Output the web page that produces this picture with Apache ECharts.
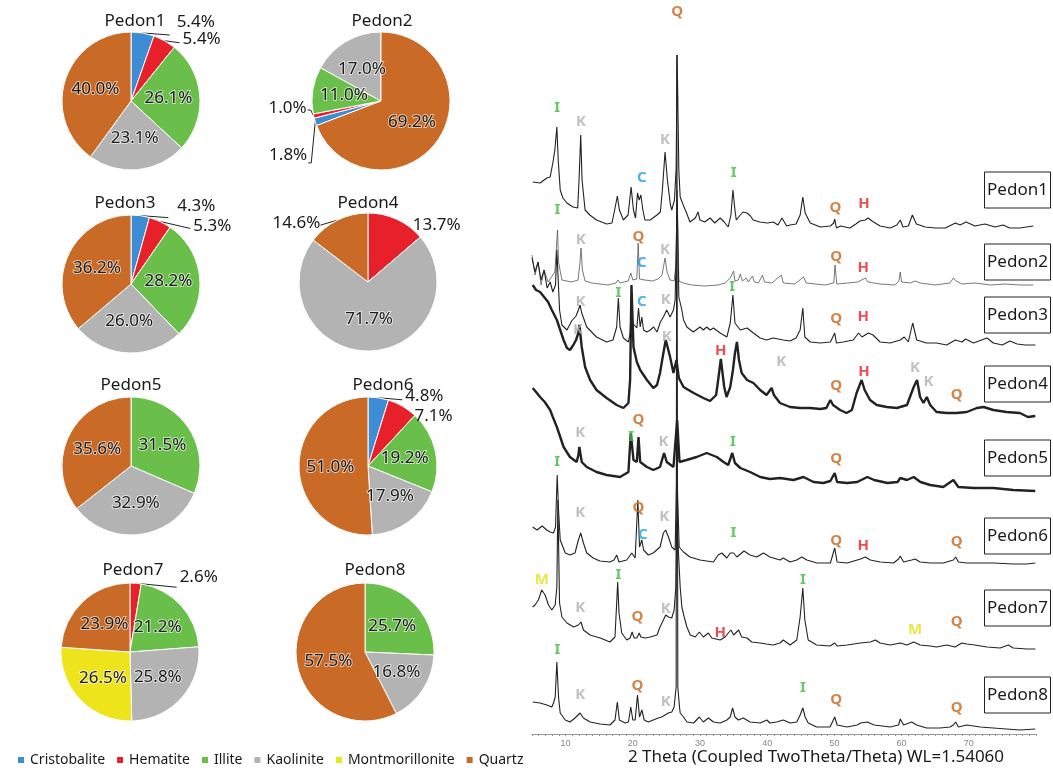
<!DOCTYPE html>
<html>
<head>
<meta charset="utf-8">
<script src="https://cdn.jsdelivr.net/npm/echarts@6/dist/echarts.min.js"></script>
<style>html,body{margin:0;padding:0;background:#fff;}#c{width:1053px;height:768px;}</style>
</head>
<body>
<div id="c"></div>
<script>
// ---------- pie data ----------
const minerals = ['Cristobalite','Hematite','Illite','Kaolinite','Montmorillonite','Quartz'];
const mineralColors = ['#3c8dd3','#e8202a','#6abf4b','#b3b3b3','#eee41c','#c96a27'];
const pedonNames = ['Pedon1','Pedon2','Pedon3','Pedon4','Pedon5','Pedon6','Pedon7','Pedon8'];
// percent per mineral in order of `minerals`
const pedon1Pct = [5.4, 5.4, 26.1, 23.1, 0, 40.0];
const pedon2Pct = [1.8, 1.0, 11.0, 17.0, 0, 69.2];
const pedon3Pct = [4.3, 5.3, 28.2, 26.0, 0, 36.2];
const pedon4Pct = [0, 13.7, 0, 71.7, 0, 14.6];
const pedon5Pct = [0, 0, 31.5, 32.9, 0, 35.6];
const pedon6Pct = [4.8, 7.1, 19.2, 17.9, 0, 51.0];
const pedon7Pct = [0, 2.6, 21.2, 25.8, 26.5, 23.9];
const pedon8Pct = [0, 0, 25.7, 16.8, 0, 57.5];

// ---------- XRD traces: [2theta, intensity above own baseline] ----------
const xrdPedon1 = [[5.1,46],[6.2,45],[7.2,50],[7.7,51],[8.1,65],[8.4,78],[8.7,101],[8.9,68],[9.2,38],[9.6,30],[10.2,25],[11.1,21],[11.8,20],[12.0,48],[12.25,93],[12.45,48],[12.9,18],[13.6,13],[14.6,8],[16.1,4],[16.9,5],[17.3,18],[17.7,32],[18.0,18],[18.6,8],[19.3,13],[19.75,41],[20.1,18],[20.4,10],[20.7,35],[20.95,28],[21.2,33],[21.5,18],[21.8,8],[22.6,8],[23.0,10],[23.6,13],[24.1,16],[24.4,38],[24.8,76],[25.15,48],[25.6,23],[25.8,18],[26.2,28],[26.45,60],[26.6,173],[26.85,58],[27.05,31],[27.5,23],[28.0,15],[28.5,6],[29.3,10],[29.7,16],[30.0,8],[30.7,6],[31.5,10],[32.2,5],[33.0,10],[33.6,6],[34.2,1],[34.6,13],[34.9,38],[35.2,18],[35.4,8],[36.0,13],[36.4,16],[37.0,15],[37.5,12],[37.9,8],[38.9,6],[40.0,5],[40.9,6],[41.6,3],[42.2,10],[42.9,2],[43.4,3],[44.3,4],[44.9,13],[45.3,31],[45.65,15],[46.4,5],[47.9,1],[49.4,2],[49.9,5],[50.05,9],[50.3,0],[50.9,2],[52.3,0],[53.2,4],[53.8,7],[54.6,8],[55.0,10],[55.6,7],[56.8,2],[58.3,0],[59.3,3],[59.8,8],[60.2,1],[61.0,2],[61.6,13],[62.2,4],[63.5,1],[65,0],[66.5,0],[68.0,5],[68.7,3],[69.6,6],[70.9,2],[72.4,4],[73.9,1],[75.1,3],[76.1,0],[77.6,0],[79.6,2]];
const xrdPedon2 = [[5.0,28],[5.45,8],[5.9,21],[6.35,-2],[6.8,13],[7.4,1],[8.0,7],[8.4,11],[8.65,38],[8.8,53],[8.95,21],[9.45,3],[10.9,1],[11.85,3],[12.15,21],[12.3,35],[12.5,13],[12.9,2],[13.9,0],[16.3,-2],[17.5,0],[17.8,3],[18.1,0],[19.3,2],[19.7,10],[20.0,3],[20.6,4],[20.8,40],[21.0,4],[21.8,3],[22.9,2],[23.75,4],[24.35,8],[24.8,25],[25.1,11],[25.55,3],[26.15,2],[26.45,20],[26.6,93],[26.85,2],[27.5,0],[28.8,-2],[30.75,-3],[32.7,-2],[33.75,0],[34.5,5],[35.0,12],[35.2,2],[35.7,3],[36.0,9],[36.3,2],[36.9,5],[37.2,1],[37.8,7],[38.1,1],[38.7,0],[39.3,8],[39.6,1],[40.7,0],[42.1,8],[42.4,0],[44.1,-1],[45.4,6],[45.8,0],[47.1,-1],[48.6,-2],[49.9,0],[50.1,18],[50.35,-1],[52.0,0],[53.5,1],[54.6,5],[55.0,1],[56.8,-1],[59.0,-2],[59.6,2],[59.8,11],[60.0,1],[61.3,0],[62.0,2],[62.8,0],[65.0,-2],[67.2,0],[67.7,5],[68.1,2],[69.0,-1],[70.9,0],[73.2,-2],[75.4,-1],[77.6,-2],[79.6,-2]];
const xrdPedon3 = [[5.0,85],[5.45,71],[5.9,81],[6.35,63],[6.8,73],[7.25,55],[7.7,61],[8.1,51],[8.5,58],[8.7,93],[8.9,63],[9.1,33],[9.45,18],[10.2,13],[10.9,22],[11.55,27],[11.9,33],[12.15,38],[12.4,30],[13.15,16],[14.6,6],[16.1,1],[17.05,3],[17.6,16],[17.85,45],[18.1,16],[18.6,5],[19.35,1],[19.6,10],[19.75,33],[19.95,20],[20.6,15],[20.85,35],[21.1,16],[21.35,26],[21.6,13],[22.1,11],[22.6,13],[23.1,16],[23.6,11],[24.1,21],[24.55,26],[25.05,33],[25.55,26],[26.05,33],[26.3,43],[26.6,143],[26.85,46],[27.3,33],[27.55,23],[28.05,16],[29.0,11],[30.0,16],[30.5,13],[31.0,16],[31.5,13],[32.0,15],[33.0,10],[34.0,6],[34.5,20],[34.9,48],[35.2,20],[36.0,13],[37.0,15],[37.95,10],[38.95,5],[39.9,3],[40.9,5],[42.4,3],[43.4,2],[44.3,5],[44.9,13],[45.3,35],[45.6,6],[46.4,1],[47.9,0],[49.4,1],[50.05,10],[50.3,0],[51.3,1],[52.8,3],[53.6,10],[54.1,6],[55.05,10],[55.75,8],[56.8,1],[58.3,0],[59.8,3],[60.4,6],[61.0,1],[61.65,20],[62.25,3],[63.7,0],[65.2,0],[66.7,-2],[68.0,3],[69.0,1],[69.5,4],[70.7,0],[72.7,5],[73.65,0],[75.0,-2],[76.1,2],[77.2,-1],[78.4,-2],[79.9,-2]];
const xrdPedon4 = [[5.1,125],[5.6,120],[6.2,118],[6.8,113],[7.4,108],[7.95,100],[8.7,90],[9.2,80],[9.7,70],[10.2,62],[10.65,60],[11.15,65],[11.55,70],[11.9,77],[12.05,85],[12.4,63],[12.9,43],[13.65,30],[14.6,20],[16.1,12],[17.6,5],[18.6,2],[19.35,7],[19.6,30],[19.8,125],[20.1,63],[20.6,48],[21.1,40],[22.1,30],[23.05,22],[23.6,25],[24.05,37],[24.5,55],[24.9,70],[25.1,65],[25.55,53],[26.05,37],[26.5,50],[26.85,32],[27.55,23],[29.05,17],[30.5,12],[31.5,9],[32.4,15],[32.7,30],[33.1,51],[33.6,23],[33.95,13],[34.5,23],[34.9,40],[35.2,57],[35.5,68],[35.8,50],[36.2,37],[37.0,30],[37.95,27],[38.95,20],[39.9,15],[40.65,22],[41.0,15],[41.9,7],[43.4,3],[44.9,2],[46.4,2],[47.9,1],[48.8,2],[49.4,10],[49.8,5],[50.85,0],[51.8,-3],[52.6,0],[53.3,17],[54.05,30],[54.5,20],[55.3,10],[56.3,5],[57.8,3],[59.3,2],[60.8,5],[61.8,23],[62.3,30],[62.75,13],[63.25,7],[63.75,13],[64.25,5],[65.2,-2],[66.7,-3],[68.2,-3],[69.7,-2],[71.2,2],[72.2,3],[73.65,0],[75.6,-2],[77.6,-3],[78.8,-7],[79.9,-6]];
const xrdPedon5 = [[5.1,97],[5.6,93],[6.2,88],[6.9,83],[7.7,75],[8.1,68],[8.7,58],[9.2,48],[9.7,38],[10.65,28],[11.65,23],[11.9,30],[12.05,38],[12.4,23],[13.15,18],[14.6,13],[16.1,10],[18.1,8],[19.35,13],[19.7,52],[20.1,25],[20.6,23],[20.85,48],[21.1,23],[22.1,18],[23.05,15],[24.05,18],[24.65,32],[25.05,23],[26.05,18],[26.6,65],[26.95,23],[28.0,25],[29.5,28],[31.0,32],[32.5,28],[33.5,23],[34.2,20],[34.8,32],[35.2,22],[36.0,17],[37.45,13],[38.95,8],[40.4,6],[41.9,7],[43.9,5],[45.4,8],[46.9,3],[48.35,2],[49.4,4],[50.05,12],[50.4,3],[51.9,2],[53.4,3],[54.9,8],[55.9,5],[57.9,2],[59.4,3],[59.8,7],[60.8,5],[61.8,8],[62.8,3],[64.25,0],[66.2,-2],[67.7,5],[68.45,-2],[70.7,-3],[73.65,-3],[76.6,-5],[79.9,-6]];
const xrdPedon6 = [[5.1,35],[5.75,32],[6.5,36],[7.2,32],[7.7,30],[8.2,29],[8.5,35],[8.75,87],[8.95,52],[9.2,22],[9.95,9],[10.65,7],[11.4,9],[11.9,22],[12.25,29],[12.65,19],[13.15,9],[14.1,4],[15.1,1],[16.6,0],[17.2,2],[17.6,7],[17.95,0],[19.1,2],[19.85,9],[20.35,4],[20.75,62],[21.0,15],[21.35,22],[21.6,12],[22.3,7],[23.05,9],[24.05,15],[24.55,29],[24.9,32],[25.3,25],[25.8,15],[26.3,12],[26.55,92],[26.9,15],[27.55,10],[28.5,5],[30.0,2],[32.0,0],[32.7,7],[33.25,9],[34.0,4],[34.5,9],[35.0,9],[35.5,5],[36.55,11],[37.45,7],[38.45,5],[39.45,9],[40.4,5],[41.9,2],[42.4,4],[43.4,0],[44.4,2],[45.15,5],[45.9,2],[47.4,-1],[49.4,-1],[50.05,14],[50.4,0],[51.9,-1],[53.4,2],[53.9,3],[54.6,5],[55.35,2],[56.8,0],[58.8,-1],[59.55,3],[59.8,6],[60.3,0],[61.5,2],[62.0,3],[62.75,0],[64.25,-1],[66.2,-1],[67.7,2],[68.05,5],[68.45,0],[69.7,-1],[71.7,-1],[73.65,-1],[76.6,-2],[78.6,-2],[79.9,-1]];
const xrdPedon7 = [[5.1,41],[5.45,43],[5.95,48],[6.45,58],[6.95,53],[7.45,43],[7.95,38],[8.45,43],[8.7,61],[8.85,148],[9.1,45],[9.45,31],[10.2,25],[11.2,21],[11.9,23],[12.3,26],[12.65,18],[13.65,13],[15.15,10],[16.6,6],[17.35,11],[17.6,45],[17.75,66],[17.95,35],[18.35,15],[19.1,8],[19.6,10],[19.9,16],[20.2,10],[20.6,10],[20.95,15],[21.2,11],[21.85,10],[22.6,11],[23.6,13],[24.05,21],[24.55,28],[24.9,33],[25.3,31],[25.8,30],[26.15,38],[26.4,61],[26.55,128],[27.05,61],[27.3,41],[27.65,31],[28.05,21],[28.55,13],[29.3,11],[29.9,16],[30.5,11],[31.25,15],[31.75,10],[33.0,8],[33.75,11],[34.2,15],[34.6,18],[35.0,13],[35.75,18],[36.2,11],[37.0,10],[37.7,6],[38.95,5],[39.9,4],[40.9,3],[41.9,5],[42.4,8],[43.4,3],[44.4,8],[44.9,31],[45.3,60],[45.6,28],[46.1,8],[47.35,3],[49.35,2],[50.05,5],[50.4,2],[51.9,3],[53.85,5],[55.35,6],[56.1,8],[56.8,5],[58.3,3],[59.8,5],[60.8,3],[61.8,6],[62.75,3],[64.25,2],[65.2,1],[66.7,3],[67.95,1],[68.95,5],[69.7,4],[70.9,3],[72.7,1],[74.65,0],[75.9,3],[76.6,0],[78.6,-1],[79.9,-1]];
const xrdPedon8 = [[5.1,25],[6.2,24],[7.2,22],[7.95,20],[8.2,24],[8.45,30],[8.7,65],[8.95,30],[9.2,14],[9.95,7],[10.65,5],[11.4,9],[11.85,12],[12.15,14],[12.65,9],[13.65,5],[15.15,3],[16.6,2],[17.35,7],[17.7,25],[18.0,7],[18.85,4],[19.35,5],[19.7,20],[20.0,7],[20.35,7],[20.7,32],[21.0,10],[21.35,17],[21.7,7],[22.3,5],[23.05,7],[23.8,9],[24.3,10],[24.8,12],[25.3,14],[25.8,15],[26.15,20],[26.45,40],[26.55,672],[26.7,40],[26.95,20],[27.05,14],[27.55,10],[28.05,5],[29.05,4],[29.9,10],[30.5,5],[31.25,9],[32.0,5],[33.0,4],[34.0,7],[34.5,10],[34.85,19],[35.2,10],[35.7,7],[36.45,9],[37.45,5],[38.95,4],[39.95,7],[40.4,4],[41.4,5],[42.4,7],[43.4,4],[44.4,5],[44.9,12],[45.3,19],[45.65,10],[46.1,4],[47.35,0],[49.35,0],[50.05,10],[50.4,2],[51.9,0],[53.4,2],[53.9,4],[54.9,5],[55.9,2],[58.3,0],[59.55,2],[59.8,8],[60.3,2],[61.5,5],[62.25,2],[63.7,-1],[65.7,-1],[67.2,0],[67.7,2],[68.05,5],[68.45,0],[69.7,2],[71.7,0],[73.65,-1],[75.6,-2],[77.6,-3],[79.9,-2]];
const xrdTraces = [xrdPedon1, xrdPedon2, xrdPedon3, xrdPedon4, xrdPedon5, xrdPedon6, xrdPedon7, xrdPedon8];
const traceOffsets = [506, 451, 391, 324, 249, 172, 86, 7];

// ---------- XRD peak annotations ----------
const annText  = ['Q', 'I','K','K','C','I','Q','H', 'I','K','Q','C','K','Q','H', 'K','I','C','K','I','Q','H', 'K','K','H','K','Q','H','K','K','Q', 'K','I','Q','K','I','Q', 'I','K','Q','C','K','I','Q','H','Q', 'M','K','I','Q','K','H','I','M','Q', 'I','K','Q','K','I','Q','Q'];
const annTheta = [26.6, 8.74,12.3,24.8,21.34,35.0,50.15,54.4, 8.8,12.26,20.83,21.34,24.8,50.25,54.3, 12.2,17.86,21.34,24.9,34.8,50.25,54.3, 11.86,25.06,33.1,42.1,50.25,54.4,62.0,64.0,68.2, 12.16,19.75,20.83,24.55,34.88,50.25, 8.74,12.16,20.83,21.5,24.66,34.97,50.25,54.3,68.2, 6.47,12.16,17.86,20.7,24.9,33.0,45.3,62.0,68.2, 8.78,12.16,20.7,24.9,45.3,50.25,68.2];
const annLevel = [722, 626,612,594,556,561,526,530, 524,494,497,471,484,477,466, 432,441,432,434,447,415,417, 404,397,383,372,348,362,366,352,339, 301,297,314,292,292,275, 272,221,226,199,217,201,193,188,192, 154,126,159,117,125,101,154,104,112, 84,39,48,32,46,34,26];
const annColors = {Q:'#c8651b', I:'#3fba3f', K:'#b0b0b0', C:'#1e9fe0', H:'#e3202a', M:'#e6e01a'};

// ---------- layout (styles) ----------
const pieCenters = [[131,101],[381,101],[131,284],[368,282],[131,466],[368,466],[130,652],[365,652]];
const pieRadius = 69;
const pieTitlePos = [[135,21],[382,21],[125,203],[368,203],[131,385],[383,385],[133,570],[375,570]];
const boxCenterY = [190,262,315,384,458,536,608,695];

const allPct = [pedon1Pct,pedon2Pct,pedon3Pct,pedon4Pct,pedon5Pct,pedon6Pct,pedon7Pct,pedon8Pct];
// outside labels, offsets from the slice's outer-arc mid point:
// [pedonIdx, mineralIdx, textOx, textOy, bendOx, bendOy, endOx, endOy, showLine]
const outsideLabels = [
  [0,0, 34,-11, 27,2, 27,2, true],
  [0,1, 18,-2, 15,2, 15,2, true],
  [1,0, -8,33, -4,41, -7,41, true],
  [1,1, -7,-8, -3,-6, -6,-6, true],
  [2,0, 37,-9, 28,2, 28,2, true],
  [2,1, 33,5, 30,7, 30,7, true],
  [3,1, 16,6, 0,0, 0,0, false],
  [3,5, -17,3, -17,5, -17,5, true],
  [5,0, 27,-2, 24,2, 24,2, true],
  [5,1, 12,10, 9,10, 9,10, true],
  [6,1, 44,-6, 41,4, 41,4, true]];

function sliceEdge(p, m) {
  const pct = allPct[p];
  const total = pct.reduce((a, b) => a + b, 0);
  const start = p === 1 ? 360 * pct[5] / total : 0;      // degrees clockwise from 12 o'clock
  let cum = 0;
  for (let k = 0; k < m; k++) cum += pct[k];
  const ang = (start + 360 * (cum + pct[m] / 2) / total) * Math.PI / 180;
  const c = pieCenters[p];
  return [c[0] + pieRadius * Math.sin(ang), c[1] - pieRadius * Math.cos(ang)];
}

const series = [];
const seriesMineralIdx = [];
allPct.forEach((pct, p) => {
  const data = [];
  const idx = [];
  pct.forEach((v, m) => {
    if (v <= 0) return;
    const item = {name: minerals[m], value: v, itemStyle:{color: mineralColors[m]}};
    const o = outsideLabels.find(e => e[0]===p && e[1]===m);
    if (o) {
      item.label = {position:'outside', textBorderWidth:0};
      item.labelLine = {show:o[8], length:4, length2:4, lineStyle:{color:'#222', width:1}};
    }
    data.push(item);
    idx.push(m);
  });
  seriesMineralIdx.push(idx);
  const start = p === 1 ? 90 - 360 * pct[5] / 100 : 90;
  series.push({
    type:'pie', name: pedonNames[p], center: pieCenters[p], radius: pieRadius,
    startAngle: start, clockwise: true, avoidLabelOverlap: false,
    itemStyle:{borderColor:'#fff', borderWidth:1},
    label:{show:true, position:'inside', formatter: d => d.value.toFixed(1)+'%',
      fontFamily:'Noto Sans', fontSize:17, color:'#1a1a1a',
      textBorderColor:'rgba(255,255,255,0.6)', textBorderWidth:2},
    labelLine:{show:false},
    labelLayout: function (params) {
      const m = seriesMineralIdx[p][params.dataIndex];
      const o = outsideLabels.find(e => e[0]===p && e[1]===m);
      if (!o) return {hideOverlap:false};
      const e = sliceEdge(p, m);
      const out = {hideOverlap:false, x: e[0] + o[2], y: e[1] + o[3],
        align: o[2] < 0 ? 'right' : 'left', verticalAlign:'middle'};
      if (o[8]) out.labelLinePoints = [e, [e[0]+o[4], e[1]+o[5]], [e[0]+o[6], e[1]+o[7]]];
      return out;
    },
    emphasis:{disabled:true},
    data
  });
});

xrdTraces.forEach((tr, i) => {
  const thick = (i === 3 || i === 4);
  series.push({
    type:'line', name:'xrd'+pedonNames[i], xAxisIndex:0, yAxisIndex:0,
    data: tr.map(d => [d[0], d[1] + traceOffsets[i]]),
    showSymbol:false, symbol:'none', smooth:false,
    lineStyle:{color: i===1 ? '#555' : '#222', width: thick ? 2.4 : (i===1 ? 0.8 : 1.1)},
    silent:true, z:2
  });
});

series.push({
  type:'scatter', name:'peaks', xAxisIndex:0, yAxisIndex:0, symbolSize:1,
  itemStyle:{color:'rgba(0,0,0,0)'}, silent:true, z:5,
  data: annText.map((t, i) => ({value:[annTheta[i], annLevel[i]],
    label:{show:true, position:'inside', formatter:t, color:annColors[t],
      fontFamily:'Noto Sans', fontWeight:'bold', fontSize:15}}))
});

const graphics = [];
pieTitlePos.forEach((pos, i) => {
  graphics.push({type:'text', x:pos[0], y:pos[1], style:{text:pedonNames[i], textAlign:'center', textVerticalAlign:'middle', font:'17px "Noto Sans"', fill:'#1a1a1a'}});
});
boxCenterY.forEach((cy, i) => {
  graphics.push({type:'rect', shape:{x:984.5, y:cy-18, width:66, height:36}, style:{fill:'#fff', stroke:'#222', lineWidth:1}, z:10});
  graphics.push({type:'text', x:1017.5, y:cy, style:{text:pedonNames[i], textAlign:'center', textVerticalAlign:'middle', font:'17px "Noto Sans"', fill:'#1a1a1a'}, z:11});
});
graphics.push({type:'text', x:816, y:757, style:{text:'2 Theta (Coupled TwoTheta/Theta) WL=1.54060', textAlign:'center', textVerticalAlign:'middle', font:'17px "Noto Sans"', fill:'#1a1a1a'}});

const chart = echarts.init(document.getElementById('c'), null, {renderer:'canvas'});
chart.setOption({
  animation:false,
  backgroundColor:'#fff',
  legend:{data: minerals, left:11, top:748, icon:'rect', itemWidth:8, itemHeight:8, itemGap:10,
    textStyle:{fontFamily:'Noto Sans', fontSize:14, color:'#1a1a1a'}, selectedMode:false},
  grid:{left:532, right:17, top:0, bottom:34},
  xAxis:{type:'value', min:5, max:80, interval:1,
    axisLine:{show:true, lineStyle:{color:'#999', width:1}},
    axisTick:{show:true, length:2, lineStyle:{color:'#999'}},
    axisLabel:{formatter: v => (v % 10 === 0 && v < 80) ? String(v) : '', fontSize:9, color:'#888', margin:5, showMinLabel:true, showMaxLabel:true},
    splitLine:{show:false}},
  yAxis:{type:'value', min:0, max:734, show:false, splitLine:{show:false}},
  graphic: graphics,
  series
});
</script>
</body>
</html>
